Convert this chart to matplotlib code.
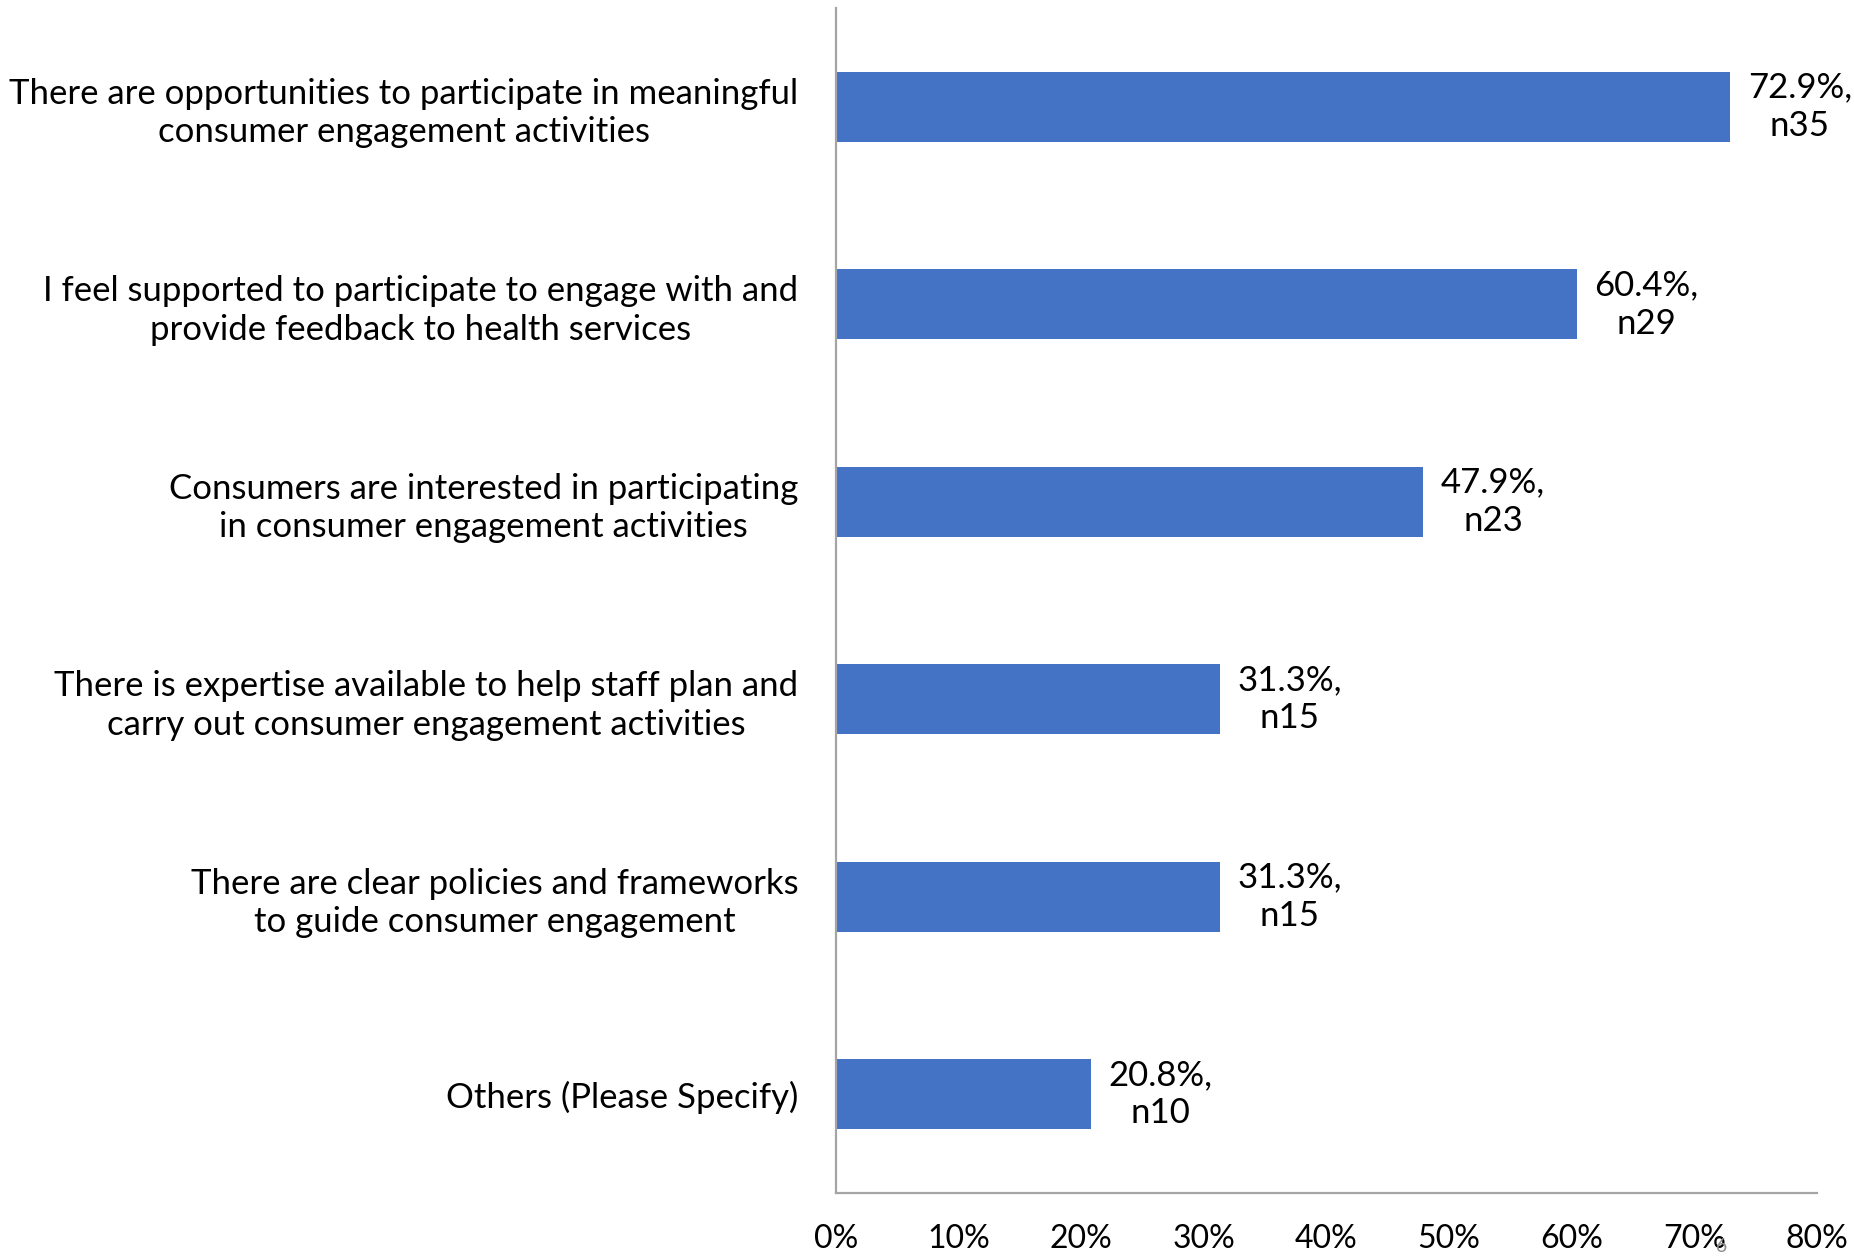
import matplotlib
matplotlib.use("Agg")
import matplotlib.pyplot as plt
from matplotlib.ticker import FuncFormatter

plt.rcParams['font.family'] = ['Lato', 'DejaVu Sans']

categories = [
    "There are opportunities to participate in meaningful\nconsumer engagement activities",
    "I feel supported to participate to engage with and\nprovide feedback to health services",
    "Consumers are interested in participating\nin consumer engagement activities",
    "There is expertise available to help staff plan and\ncarry out consumer engagement activities",
    "There are clear policies and frameworks\nto guide consumer engagement",
    "Others (Please Specify)",
]
percent = [72.9, 60.4, 47.9, 31.3, 31.3, 20.8]
counts = [35, 29, 23, 15, 15, 10]
x_ticks = [0, 10, 20, 30, 40, 50, 60, 70, 80]

bar_color = "#4472C4"
axis_color = "#A5A5A5"
fs_label = 25
fs_tick = 23

fig = plt.figure(figsize=(18.54, 12.58), dpi=100)
ax = fig.add_axes([0.4509, 0.0517, 0.980 - 0.4509, 0.9936 - 0.0517])

ypos = list(range(len(categories)))
ax.barh(ypos, percent, height=0.355, color=bar_color, zorder=2)

for y, p, n in zip(ypos, percent, counts):
    ax.text(p + 1.45, y, f"{p}%,\nn{n}", ha="left", va="center",
            fontsize=fs_label, linespacing=1.25, multialignment="center")

ax.set_ylim(len(categories) - 0.5, -0.5)
ax.set_xlim(0, 80)
ax.set_xticks(x_ticks)
ax.xaxis.set_major_formatter(FuncFormatter(lambda v, _: f"{v:.0f}%"))
ax.set_yticks(ypos)
ax.set_yticklabels(categories, fontsize=fs_label, multialignment="center",
                   linespacing=1.25)
ax.tick_params(axis="x", length=0, pad=22, labelsize=fs_tick)
ax.tick_params(axis="y", length=0, pad=27)

for side in ("top", "right"):
    ax.spines[side].set_visible(False)
for side in ("left", "bottom"):
    ax.spines[side].set_color(axis_color)
    ax.spines[side].set_linewidth(1.6)

# slide number sitting next to the 70% tick
fig.text(1722 / 1854, 1 - 1246 / 1258, "6", fontsize=14, color="#8C8C8C",
         ha="center", va="center")

fig.savefig("out.png", dpi=100)
